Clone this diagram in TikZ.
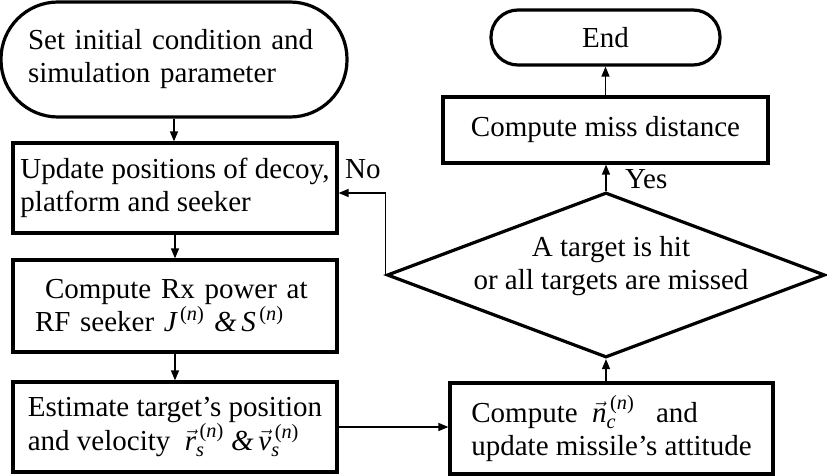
\documentclass[tikz,border=0pt]{standalone}
\usepackage{amsmath}
\usepackage{fontspec}
\setmainfont{Liberation Serif}
\usetikzlibrary{arrows.meta,shapes.geometric}
\newcommand\fs{\fontsize{29}{33}\selectfont}
\newcommand\vecit[1]{\vec{\text{\itshape #1}}}
\newcommand\supn{^{\,\text{(\itshape n\/\upshape)}}}
\begin{document}
\begin{tikzpicture}[x=1pt,y=-1pt,
  every node/.style={font=\fs},
  box/.style={draw, line width=3.2pt, inner sep=0pt, align=left},
  stad/.style={box, rounded corners=#1},
  arr/.style={line width=1.3pt, -{Triangle[length=10pt,width=8pt]}}]
\useasboundingbox (0,0) rectangle (827,476);
\node[stad=57pt, minimum height=115pt, inner xsep=27pt, text width=292pt] (start) at (174,59.5) {Set initial condition and\\simulation parameter};
\node[box, minimum width=324pt, minimum height=90pt] (upd) at (175,188) {Update positions of decoy,\\platform and seeker};
\node[box, minimum height=92pt, inner xsep=22pt, text width=280pt] (rx) at (175,306) {\hspace{10pt}Compute Rx power at\\RF seeker $\text{\itshape J}\supn$ \textit{\&}\,$\text{\itshape S}\supn$};
\node[box, minimum width=324pt, minimum height=90pt] (est) at (175,427) {Estimate target’s position\\and velocity \ $\vecit{r}_{\text{\itshape s}}\supn$ \textit{\&}\,$\vecit{v}_{\text{\itshape s}}\supn$};
\node[box, minimum width=323pt, minimum height=91pt] (cmp) at (611.5,428.5) {Compute \ $\vecit{n}_{\text{\itshape c}}\supn$ \ \ and\\update missile’s attitude};
\node[diamond, draw, line width=3.2pt, minimum width=438pt, minimum height=165pt, inner sep=0pt] (dec) at (606,275) {};
\node[align=center] (dect) at (611,266) {A target is hit\\or all targets are missed};
\node[box, minimum width=325pt, minimum height=66pt] (miss) at (605.5,130) {Compute miss distance};
\node[stad=27pt, minimum width=229pt, minimum height=55pt] (end) at (605.5,37.5) {End};
\draw[arr] (start.south) -- (start.south |- upd.north);
\draw[arr] (upd.south) -- (rx.north);
\draw[arr] (rx.south) -- (est.north);
\draw[arr] (est.east) -- (est.east -| cmp.west);
\draw[arr] (cmp.north -| dec.south) -- (dec.south);
\draw[arr] (dec.north) -- (dec.north |- miss.south);
\draw[arr] (miss.north) -- (end.south);
\draw[arr] (dec.west) |- ([yshift=-5pt]upd.east);
\node[anchor=base west, inner sep=0pt] (no) at (345,178) {No};
\node[anchor=base west, inner sep=0pt] (yes) at (625,188) {Yes};
\end{tikzpicture}
\end{document}
